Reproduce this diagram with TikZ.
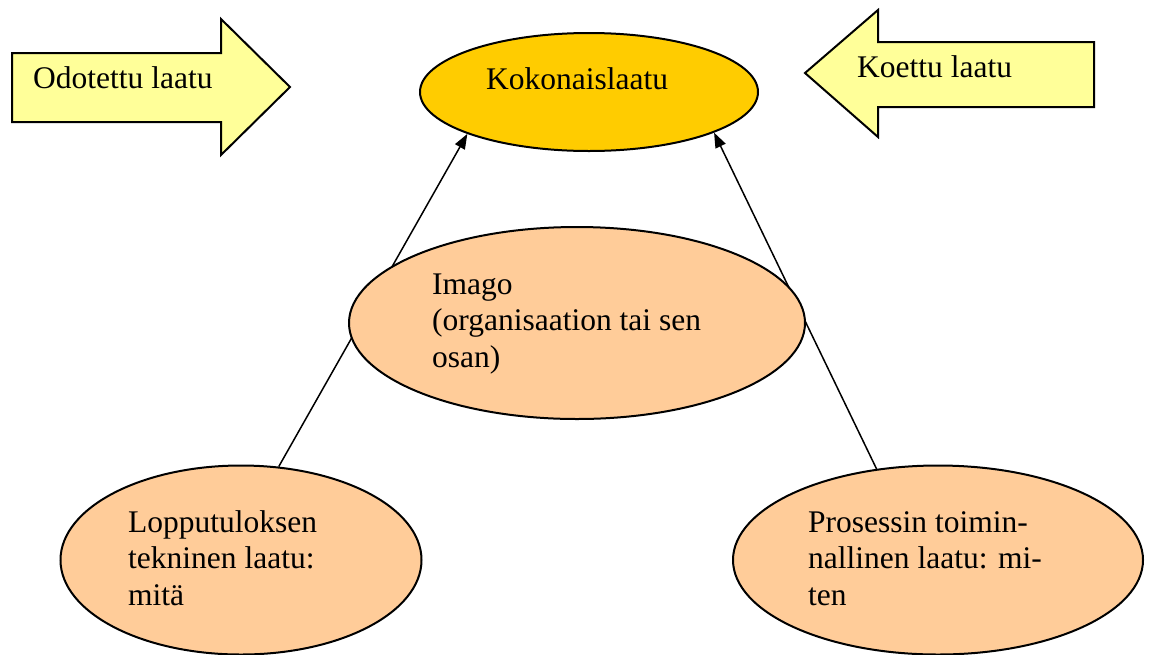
\documentclass[tikz,border=0pt]{standalone}
\usepackage{fontspec}
\setmainfont{Liberation Serif}
\usetikzlibrary{arrows.meta,shapes.geometric}
\definecolor{arrowyellow}{HTML}{FFFF99}
\definecolor{goldfill}{HTML}{FFCC00}
\definecolor{peachfill}{HTML}{FFCC99}
\begin{document}
\begin{tikzpicture}[x=1pt,y=-1pt,
  bigarrow/.style={draw=black,line width=2pt,fill=arrowyellow,line join=miter},
  lbl/.style={inner sep=0pt,anchor=base west,font=\fontsize{31.5}{36.5}\selectfont,align=left},
  oval/.style={ellipse,draw=black,line width=2pt,inner sep=0pt},
  conn/.style={line width=1.5pt,-{Triangle[length=15pt,width=11pt]}}]
\useasboundingbox (0,0) rectangle (1150,654);
\fill[white] (0,0) rectangle (1150,654);
% big block arrows
\draw[bigarrow] (12,53) -- (221,53) -- (221,19) -- (290,87) -- (221,155) -- (221,122) -- (12,122) -- cycle;
\draw[bigarrow] (805,73) -- (878,10) -- (878,42) -- (1094,42) -- (1094,107) -- (878,107) -- (878,137) -- cycle;
\node[lbl] (odo) at (33,88) {Odotettu laatu};
\node[lbl] (koe) at (857,77) {Koettu laatu};
% ellipses
\node[oval,fill=goldfill,minimum width=338pt,minimum height=118pt] (kok) at (589,92) {};
\node[lbl] (koktxt) at (486,89) {Kokonaislaatu};
\node[oval,fill=peachfill,minimum width=361pt,minimum height=189pt] (lop) at (241,560) {};
\node[oval,fill=peachfill,minimum width=410pt,minimum height=189pt] (pro) at (938,560) {};
% connectors
\draw[conn] (lop.68) -- (kok.199);
\draw[conn] (pro.124) -- (kok.342);
% imago on top of connectors
\node[oval,fill=peachfill,minimum width=456pt,minimum height=192pt] (ima) at (577,323) {};
\node[lbl] (imatxt) at (432,367) {Imago\\(organisaation tai sen\\osan)};
\node[lbl] (loptxt) at (128,605) {Lopputuloksen\\tekninen laatu:\\mitä};
\node[lbl] (protxt) at (808,605) {Prosessin toimin-\\nallinen laatu: mi-\\ten};
\end{tikzpicture}
\end{document}
